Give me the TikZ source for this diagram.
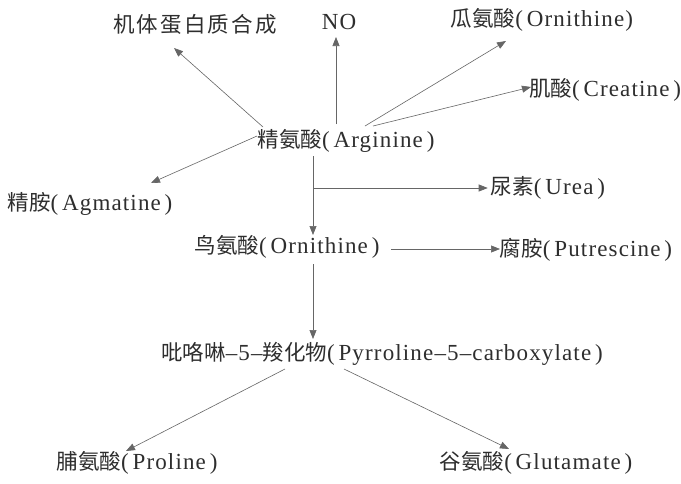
\documentclass[tikz,border=0pt]{standalone}
\usepackage{fontspec}
\setmainfont{Liberation Serif}
\newfontfamily\lat[LetterSpace=5]{Liberation Serif}
\newfontfamily\cjk{Noto Sans CJK SC}
\newfontfamily\cjkw[LetterSpace=10]{Noto Sans CJK SC}
\usetikzlibrary{arrows.meta}
\newcommand\zh[1]{{\fontsize{21.5}{25}\selectfont\cjk #1}}
\begin{document}
\begin{tikzpicture}[x=1pt,y=-1pt,
  lbl/.style={inner sep=0pt, text=black!82, font=\lat\fontsize{23}{27}\selectfont},
  arr/.style={draw=black!60, line width=0.6pt, -{Triangle[length=9pt,width=7pt]}}]
\useasboundingbox[fill=white] (0,0) rectangle (681,483);
% labels
\node[lbl] (protein) at (195,24) {{\fontsize{21.5}{25}\selectfont\cjkw 机体蛋白质合成}};
\node[lbl] (no) at (339,22) {NO};
\node[lbl] (cit) at (542,20) {\zh{瓜氨酸}(\,Ornithine)};
\node[lbl] (cre) at (605,90) {\zh{肌酸}(\,Creatine\,)};
\node[lbl] (arg) at (346,141) {\zh{精氨酸}(\,Arginine\,)};
\node[lbl] (agm) at (90,204) {\zh{精胺}(\,Agmatine\,)};
\node[lbl] (urea) at (548,188) {\zh{尿素}(\,Urea\,)};
\node[lbl] (orn) at (287,247) {\zh{鸟氨酸}(\,Ornithine\,)};
\node[lbl] (put) at (586,250) {\zh{腐胺}(\,Putrescine\,)};
\node[lbl] (p5c) at (382,354) {\zh{吡咯啉}–5–\zh{羧化物}(\,Pyrroline–5–carboxylate\,)};
\node[lbl] (pro) at (137,463) {\zh{脯氨酸}(\,Proline\,)};
\node[lbl] (glu) at (536,463) {\zh{谷氨酸}(\,Glutamate\,)};
% connector points
\coordinate (sP) at (263,127);
\coordinate (tP) at (174,48);
\coordinate (sN) at (336,124);
\coordinate (tN) at (336,37);
\coordinate (sC) at (365,126);
\coordinate (tC) at (506,41);
\coordinate (sK) at (373,126);
\coordinate (tK) at (531,87);
\coordinate (sA) at (257,136);
\coordinate (tA) at (151,183);
\coordinate (v1) at (313,156);
\coordinate (j1) at (313,188);
\coordinate (tO) at (313,235);
\coordinate (sU) at (391,249);
\coordinate (tU) at (500,249);
\coordinate (v2) at (313,264);
\coordinate (tV) at (313,339);
\coordinate (sL) at (285,369);
\coordinate (tL) at (126,451);
\coordinate (sR) at (344,369);
\coordinate (tR) at (509,449);
% connectors
\draw[arr] (sP) -- (tP);
\draw[arr] (sN) -- (tN);
\draw[arr] (sC) -- (tC);
\draw[arr] (sK) -- (tK);
\draw[arr] (sA) -- (tA);
\draw[arr] (v1) -- (tO);
\draw[arr] (j1) -- ([xshift=-3pt]urea.west);
\draw[arr] (sU) -- (tU);
\draw[arr] (v2) -- (tV);
\draw[arr] (sL) -- (tL);
\draw[arr] (sR) -- (tR);
\end{tikzpicture}
\end{document}
